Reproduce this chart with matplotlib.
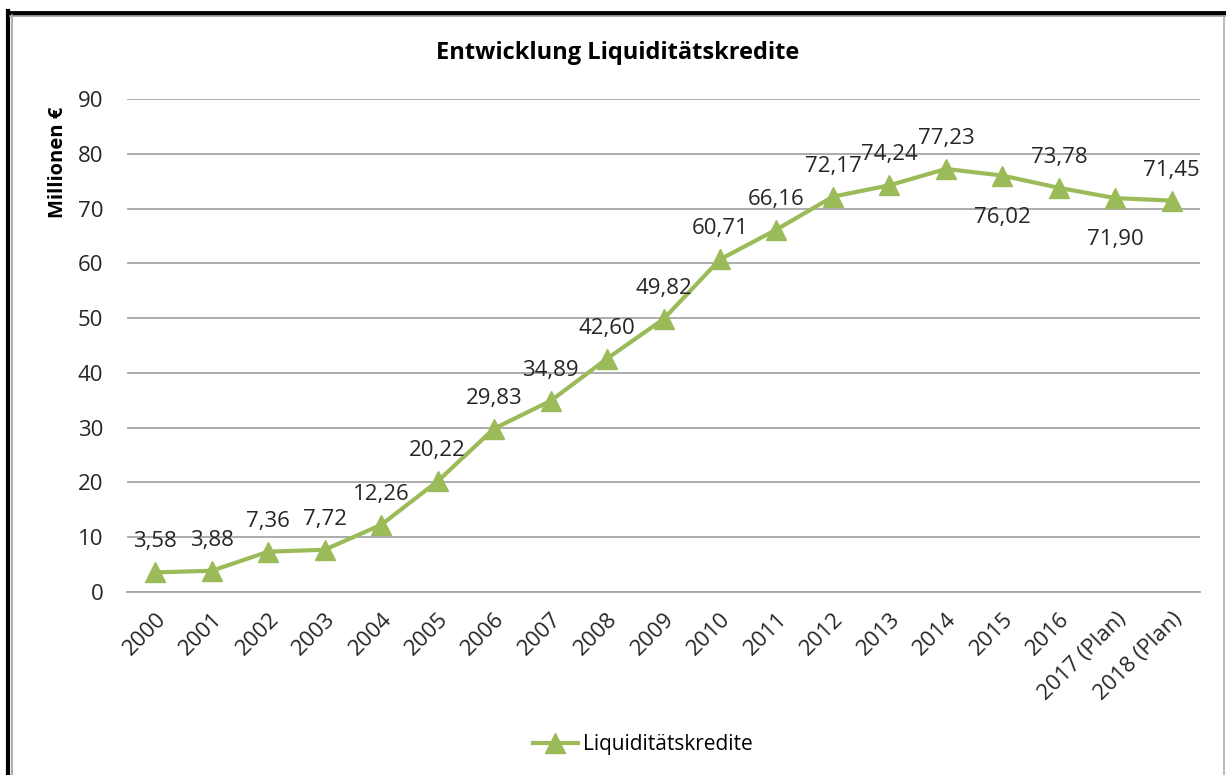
import matplotlib
matplotlib.use("Agg")
import matplotlib.pyplot as plt
from matplotlib.lines import Line2D

years = ["2000", "2001", "2002", "2003", "2004", "2005", "2006", "2007", "2008",
         "2009", "2010", "2011", "2012", "2013", "2014", "2015", "2016",
         "2017 (Plan)", "2018 (Plan)"]
credits = [3.58, 3.88, 7.36, 7.72, 12.26, 20.22, 29.83, 34.89, 42.60, 49.82,
           60.71, 66.16, 72.17, 74.24, 77.23, 76.02, 73.78, 71.90, 71.45]
below = {"2015", "2017 (Plan)"}

_GREEN = "#9BBB59"
_GRID = "#A6A6A6"
_TEXT = "#262626"

plt.rcParams["font.family"] = ["Open Sans", "DejaVu Sans"]

fig = plt.figure(figsize=(12.26, 7.75), dpi=100)
ax = fig.add_axes([0.1036, 0.2361, 0.8752, 0.6362])

x = range(len(years))
ax.plot(x, credits, color=_GREEN, linewidth=3, marker="^", markersize=14,
        label="Liquiditätskredite", zorder=3)

for i, (yr, v) in enumerate(zip(years, credits)):
    txt = f"{v:.2f}".replace(".", ",")
    dy = -30 if yr in below else 22
    ax.annotate(txt, (i, v), xytext=(0, dy), textcoords="offset points",
                ha="center", va="center", fontsize=16, color=_TEXT)

ax.set_xlim(-0.5, len(years) - 0.5)
ax.set_ylim(0, 90)
ax.set_yticks(range(0, 91, 10))
ax.set_xticks(list(x))
ax.set_xticklabels(years, rotation=45, ha="right", rotation_mode="anchor")
ax.tick_params(axis="both", length=0, labelsize=16, colors=_TEXT)
ax.tick_params(axis="y", pad=17)
ax.tick_params(axis="x", pad=12)
ax.grid(axis="y", color=_GRID, linewidth=1.3)
ax.set_axisbelow(True)
for s in ["top", "right", "left"]:
    ax.spines[s].set_visible(False)
ax.spines["bottom"].set_color(_GRID)
ax.spines["bottom"].set_linewidth(1.3)

fig.text(0.504, 0.931, "Entwicklung Liquiditätskredite", ha="center", va="center",
         fontsize=17, fontweight="bold", color="black")
fig.text(0.047, 0.79, "Millionen €", ha="center", va="center", rotation=90,
         fontsize=14.5, fontweight="bold", color="black")

fig.legend(loc="center", bbox_to_anchor=(0.524, 0.039), frameon=False,
           fontsize=15, handlelength=2.2, handletextpad=0.2)

# outer frame: black top/left, thin grey right edge
fr = fig.transFigure
fig.lines.append(Line2D([0.007, 1.0], [0.9835, 0.9835], transform=fr, color="black", linewidth=3.5))
fig.lines.append(Line2D([0.0068, 0.0068], [0.0, 0.9855], transform=fr, color="black", linewidth=3))
fig.lines.append(Line2D([0.0096, 0.0096], [0.0, 0.981], transform=fr, color="#A0A0A0", linewidth=1.2))
fig.lines.append(Line2D([0.008, 1.0], [0.9795, 0.9795], transform=fr, color="#A0A0A0", linewidth=1.2))
fig.lines.append(Line2D([0.9985, 0.9985], [0.0, 0.98], transform=fr, color="#B0B0B0", linewidth=1.2))

fig.savefig("out.png", dpi=100)
